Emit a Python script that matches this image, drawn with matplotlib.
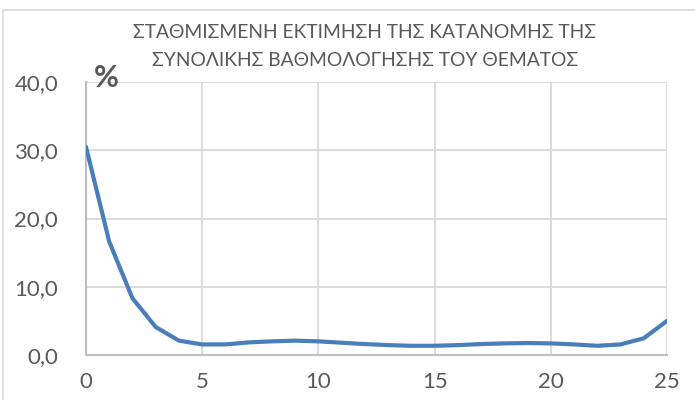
import matplotlib
matplotlib.use("Agg")
import matplotlib.pyplot as plt
from matplotlib.lines import Line2D

plt.rcParams['font.family'] = ['Lato', 'DejaVu Sans']

title_lines = ["ΣΤΑΘΜΙΣΜΕΝΗ ΕΚΤΙΜΗΣΗ ΤΗΣ ΚΑΤΑΝΟΜΗΣ ΤΗΣ",
               "ΣΥΝΟΛΙΚΗΣ ΒΑΘΜΟΛΟΓΗΣΗΣ ΤΟΥ ΘΕΜΑΤΟΣ"]
scores = list(range(0, 26))
percent = [30.5, 16.6, 8.3, 4.1, 2.1, 1.55, 1.55, 1.85, 2.0, 2.1,
           2.0, 1.8, 1.6, 1.45, 1.35, 1.35, 1.45, 1.6, 1.7, 1.75,
           1.7, 1.55, 1.35, 1.55, 2.45, 5.0]
x_ticks = [0, 5, 10, 15, 20, 25]
y_ticks = [0, 10, 20, 30, 40]

txt = '#595959'
grid = '#d9d9d9'

fig = plt.figure(figsize=(6.95, 4.0), dpi=100)
ax = fig.add_axes([86/695, 1-355/400, (667-86)/695, (355-82)/400])

ax.plot(scores, percent, color='#4a7ebb', lw=3.0, solid_capstyle='round', solid_joinstyle='round', zorder=3)

ax.set_xlim(0, 25)
ax.set_ylim(0, 40)
ax.set_xticks(x_ticks)
ax.set_yticks(y_ticks)
ax.set_yticklabels([f"{v:.1f}".replace('.', ',') for v in y_ticks])
ax.set_xticklabels([str(v) for v in x_ticks])
ax.tick_params(length=0, labelsize=16, labelcolor=txt)
ax.tick_params(axis='y', pad=20)
ax.tick_params(axis='x', pad=12)
ax.grid(True, color=grid, lw=1.3, zorder=0)
for s in ['top', 'right']:
    ax.spines[s].set_visible(False)
for s in ['left', 'bottom']:
    ax.spines[s].set_color('#bfbfbf')
    ax.spines[s].set_linewidth(1.5)

fig.text(365/695, 1-32/400, title_lines[0], ha='center', va='center', fontsize=13.9, color=txt)
fig.text(365/695, 1-60/400, title_lines[1], ha='center', va='center', fontsize=13.9, color=txt)
fig.text(106/695, 1-78/400, '%', ha='center', va='center', fontsize=22, fontweight='bold', color=txt)

fig.add_artist(Line2D([3/695, 1], [1-10/400, 1-10/400], color='#d9d9d9', lw=1.2, transform=fig.transFigure))
fig.add_artist(Line2D([3/695, 3/695], [0, 1-10/400], color='#d9d9d9', lw=1.2, transform=fig.transFigure))

fig.savefig('out.png', dpi=100)
